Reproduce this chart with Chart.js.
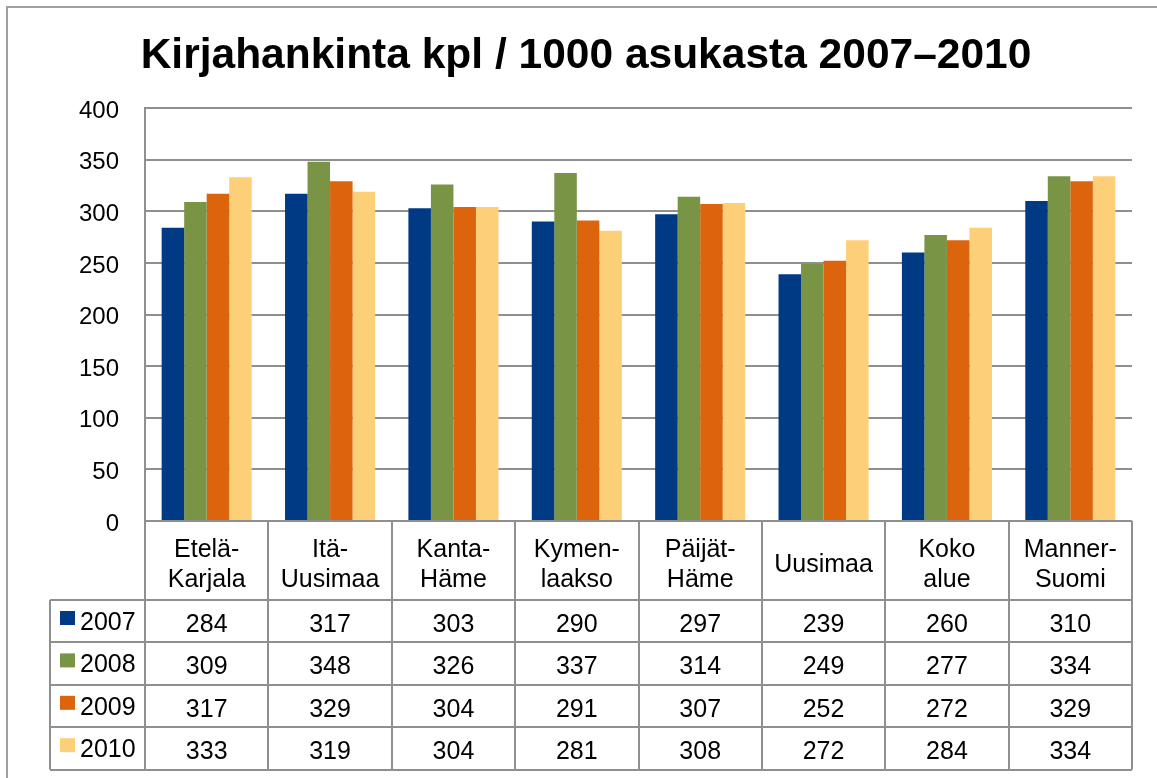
<!DOCTYPE html>
<html>
<head>
<meta charset="utf-8">
<title>Kirjahankinta</title>
<script src="https://cdn.jsdelivr.net/npm/chart.js@4.4.1/dist/chart.umd.min.js"></script>
<style>
    html, body { margin: 0; padding: 0; background: #fff; }
    canvas { display: block; }
</style>
</head>
<body>
<canvas id="kirjaChart" width="1157" height="778"></canvas>
<script>
// DADOS --------------------------
const alueet = [
    ["Etelä-", "Karjala"],
    ["Itä-", "Uusimaa"],
    ["Kanta-", "Häme"],
    ["Kymen-", "laakso"],
    ["Päijät-", "Häme"],
    ["Uusimaa"],
    ["Koko", "alue"],
    ["Manner-", "Suomi"]
];
const vuodet = ["2007", "2008", "2009", "2010"];
const arvot2007 = [284, 317, 303, 290, 297, 239, 260, 310];
const arvot2008 = [309, 348, 326, 337, 314, 249, 277, 334];
const arvot2009 = [317, 329, 304, 291, 307, 252, 272, 329];
const arvot2010 = [333, 319, 304, 281, 308, 272, 284, 334];
const yTicks = [0, 50, 100, 150, 200, 250, 300, 350, 400];

const CORES = ["#003a84", "#7a9446", "#dc640c", "#fecf79"];
const LINHA = "#8f8f8f";
const FONTE = "'Liberation Sans', Arial, sans-serif";

const series = [arvot2007, arvot2008, arvot2009, arvot2010];

// tabela de dados embaixo do grafico
const tabelaPlugin = {
    id: "tabela",
    beforeDraw(chart) {
        const ctx = chart.ctx;
        ctx.save();
        ctx.fillStyle = "#fff";
        ctx.fillRect(0, 0, chart.width, chart.height);
        // moldura externa
        ctx.strokeStyle = "#a0a0a0";
        ctx.lineWidth = 2;
        ctx.beginPath();
        ctx.moveTo(7, chart.height);
        ctx.lineTo(7, 7);
        ctx.lineTo(chart.width, 7);
        ctx.stroke();
        ctx.restore();
    },
    afterDraw(chart) {
        const ctx = chart.ctx;
        const x = chart.scales.x;
        const area = chart.chartArea;
        const n = alueet.length;
        const colW = (area.right - area.left) / n;
        const top = area.bottom;
        const headerBottom = 600;
        const rowH = 42.4;
        const legendLeft = 50;
        const bottom = headerBottom + rowH * vuodet.length;

        ctx.save();
        ctx.strokeStyle = LINHA;
        ctx.lineWidth = 2;
        ctx.beginPath();
        // linhas verticais
        for (let i = 0; i <= n; i++) {
            const px = Math.round(area.left + colW * i);
            ctx.moveTo(px, top);
            ctx.lineTo(px, bottom);
        }
        ctx.moveTo(legendLeft, headerBottom);
        ctx.lineTo(legendLeft, bottom);
        // linhas horizontais
        ctx.moveTo(area.left, top);
        ctx.lineTo(area.right, top);
        for (let r = 0; r <= vuodet.length; r++) {
            const py = Math.round(headerBottom + rowH * r);
            ctx.moveTo(legendLeft, py);
            ctx.lineTo(area.right, py);
        }
        ctx.stroke();

        ctx.fillStyle = "#000";
        ctx.font = "25px " + FONTE;
        ctx.textBaseline = "alphabetic";
        ctx.textAlign = "center";

        // cabecalho
        alueet.forEach((linhas, i) => {
            const cx = x.getPixelForValue(i);
            if (linhas.length === 1) {
                ctx.fillText(linhas[0], cx, 572);
            } else {
                ctx.fillText(linhas[0], cx, 557);
                ctx.fillText(linhas[1], cx, 587);
            }
        });

        // valores
        series.forEach((dados, r) => {
            const base = headerBottom + rowH * r + 32;
            ctx.textAlign = "center";
            ctx.fillStyle = "#000";
            dados.forEach((v, i) => {
                ctx.fillText(String(v), x.getPixelForValue(i), base);
            });
            // legenda
            ctx.fillStyle = CORES[r];
            ctx.fillRect(60, headerBottom + rowH * r + 11, 15, 14);
            ctx.fillStyle = "#000";
            ctx.textAlign = "left";
            ctx.fillText(vuodet[r], 80, base - 2);
        });
        ctx.restore();
    }
};

document.addEventListener("DOMContentLoaded", () => {
    const ctx = document.getElementById("kirjaChart").getContext("2d");
    new Chart(ctx, {
        type: "bar",
        data: {
            labels: alueet,
            datasets: vuodet.map((ano, i) => ({
                label: ano,
                data: series[i],
                backgroundColor: CORES[i],
                borderWidth: 0,
                categoryPercentage: 0.73,
                barPercentage: 1
            }))
        },
        options: {
            responsive: false,
            devicePixelRatio: 1,
            animation: false,
            layout: { padding: { top: 0, left: 40, right: 25, bottom: 257 } },
            plugins: {
                legend: { display: false },
                tooltip: { enabled: false },
                title: {
                    display: true,
                    text: "Kirjahankinta kpl / 1000 asukasta 2007–2010",
                    color: "#000",
                    font: { family: FONTE, size: 42.5, weight: "bold", lineHeight: 1.2 },
                    padding: { top: 31, bottom: 26 }
                }
            },
            scales: {
                x: { display: false },
                y: {
                    min: 0,
                    max: 400,
                    afterFit: (scale) => { scale.width = 105; },
                    afterBuildTicks: (scale) => { scale.ticks = yTicks.map(v => ({ value: v })); },
                    grid: { color: LINHA, lineWidth: 2, drawTicks: false },
                    border: { display: true, color: LINHA, width: 2 },
                    ticks: {
                        padding: 26,
                        labelOffset: 3,
                        color: "#000",
                        font: { family: FONTE, size: 24 }
                    }
                }
            }
        },
        plugins: [tabelaPlugin]
    });
});
</script>
</body>
</html>
